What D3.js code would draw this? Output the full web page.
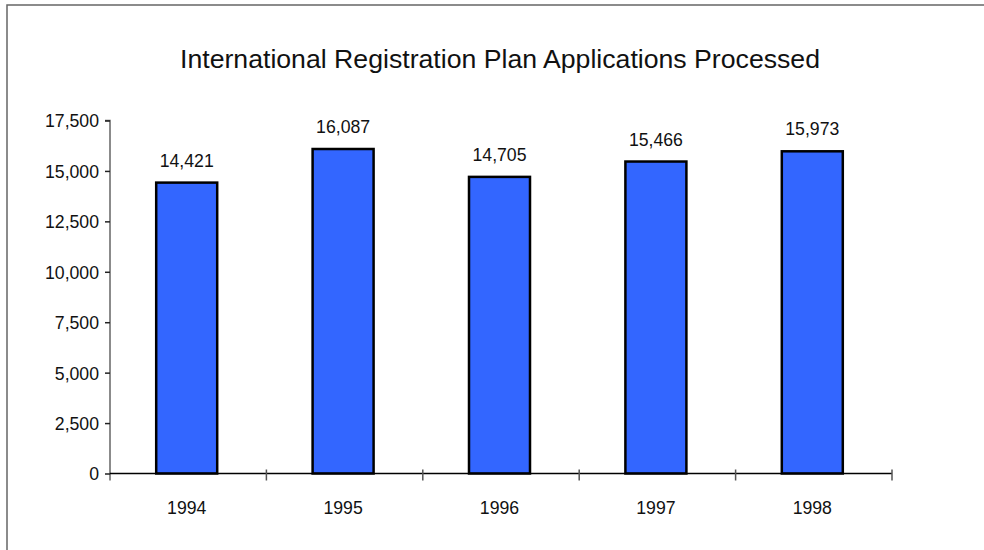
<!DOCTYPE html>
<html>
<head>
<meta charset="utf-8">
<script src="https://cdn.jsdelivr.net/npm/d3@7"></script>
<style>
  html, body { margin: 0; padding: 0; background: #fff; }
  svg { display: block; font-family: "Liberation Sans", Arial, sans-serif; }
</style>
</head>
<body>
<svg id="chart" width="984" height="550"></svg>
<script>
// Applications processed per year
const years = ["1994", "1995", "1996", "1997", "1998"];
const applications = [14421, 16087, 14705, 15466, 15973];
const yTicks = [0, 2500, 5000, 7500, 10000, 12500, 15000, 17500];
const title = "International Registration Plan Applications Processed";

const svg = d3.select("#chart");
const W = 984, H = 550;
const plot = { left: 110, right: 892, top: 120.5, bottom: 473.5 };
const FS = 19, SX = 0.93;          // label font size and horizontal squeeze
const fmt = d3.format(",");

// place a horizontally squeezed text at (px, py)
function label(sel, px, py, anchor) {
  return sel
    .attr("transform", d => `translate(${px(d)},${py(d)}) scale(${SX},1)`)
    .attr("x", 0).attr("y", 0)
    .attr("text-anchor", anchor)
    .attr("font-size", FS)
    .attr("fill", "#111");
}

// outer frame (top and left edges visible)
svg.append("path")
  .attr("d", `M7,${H} L7,5 L${W},5`)
  .attr("fill", "none")
  .attr("stroke", "#666")
  .attr("stroke-width", 1.5);

svg.append("text")
  .attr("x", 500).attr("y", 68)
  .attr("text-anchor", "middle")
  .attr("font-size", 26)
  .attr("textLength", 640)
  .attr("lengthAdjust", "spacingAndGlyphs")
  .attr("fill", "#111")
  .text(title);

const x = d3.scaleBand().domain(years).range([plot.left, plot.right]).paddingInner(0).paddingOuter(0);
const y = d3.scaleLinear().domain([0, 17500]).range([plot.bottom, plot.top]);
const cx = d => x(d) + x.bandwidth() / 2 - 1.5;

// y axis
const yAxis = d3.axisLeft(y).tickValues(yTicks).tickSize(5).tickFormat(fmt);
const gy = svg.append("g").attr("transform", `translate(${plot.left},0)`).call(yAxis);
gy.select(".domain").attr("stroke", "#666").attr("stroke-width", 1.5)
  .attr("d", `M-5,${plot.top}H0V${plot.bottom + 7}`);
gy.selectAll(".tick line").attr("stroke", "#222").attr("stroke-width", 1.5);
gy.selectAll(".tick text")
  .attr("x", 0).attr("dy", "0.34em")
  .attr("transform", `translate(-11,0) scale(${SX},1)`)
  .attr("font-size", FS).attr("fill", "#111")
  .attr("font-family", "Liberation Sans, Arial, sans-serif");

// bars
const rows = years.map((yr, i) => ({ yr, v: applications[i] }));
const barW = 61;
svg.append("g").selectAll("rect")
  .data(rows)
  .join("rect")
  .attr("x", d => cx(d.yr) - barW / 2)
  .attr("y", d => y(d.v))
  .attr("width", barW)
  .attr("height", d => y(0) - y(d.v))
  .attr("fill", "#3366FF")
  .attr("stroke", "#000")
  .attr("stroke-width", 2.5);

// value labels
label(svg.append("g").selectAll("text").data(rows).join("text"),
      d => cx(d.yr), d => y(d.v) - 16, "middle")
  .text(d => fmt(d.v));

// x axis: baseline with boundary ticks crossing it
const gx = svg.append("g").attr("transform", `translate(0,${plot.bottom})`);
gx.append("line")
  .attr("x1", plot.left).attr("x2", plot.right)
  .attr("stroke", "#000").attr("stroke-width", 1.5);
const bounds = years.slice(1).map(d => x(d)).concat([plot.right]);
gx.selectAll(".bt").data(bounds).join("line")
  .attr("class", "bt")
  .attr("x1", d => d).attr("x2", d => d)
  .attr("y1", -4).attr("y2", 7)
  .attr("stroke", "#555").attr("stroke-width", 1.5);
label(gx.selectAll(".lbl").data(years).join("text").attr("class", "lbl"),
      d => cx(d), () => 40.5, "middle")
  .text(d => d);
</script>
</body>
</html>
